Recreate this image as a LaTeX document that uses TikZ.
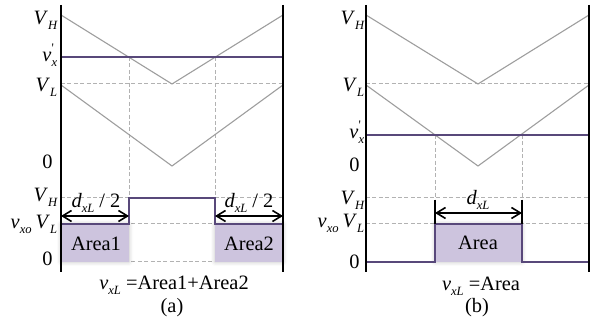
\documentclass[tikz,border=0pt]{standalone}
\usepackage{fontspec}
\setmainfont{Liberation Serif}
\usetikzlibrary{arrows.meta,shadows.blur}
\definecolor{sigc}{RGB}{88,72,122}
\definecolor{areac}{RGB}{205,196,222}
\newcommand{\sbs}[1]{\raisebox{-0.45ex}{\fontsize{6.3}{7}\selectfont\itshape #1}}
\newcommand{\vprime}{\textit{v}\rlap{\raisebox{1.05ex}{\fontsize{6.5}{7}\selectfont\textquotesingle}}\sbs{x}}
\begin{document}
\begin{tikzpicture}[x=0.5pt,y=-0.5pt,
  axis/.style={line width=1.3pt,draw=black},
  tri/.style={line width=0.55pt,draw=black!38},
  guide/.style={line width=0.5pt,draw=black!30,dash pattern=on 2pt off 1.2pt},
  sig/.style={line width=1pt,draw=sigc},
  ext/.style={line width=0.55pt,draw=black},
  areafill/.style={fill=areac,draw=none,blur shadow={shadow xshift=0pt,shadow yshift=0pt,shadow blur radius=2pt,shadow opacity=25}},
  dim/.style={line width=0.8pt,{Straight Barb[length=4.5pt,width=5.5pt]}-{Straight Barb[length=4.5pt,width=5.5pt]}},
  lbl/.style={anchor=base east,inner sep=0pt,font=\fontsize{10.2}{12}\selectfont},
  txt/.style={anchor=base,inner sep=0pt,font=\fontsize{10.2}{12}\selectfont},
]
\useasboundingbox (0,0) rectangle (594,330);

% ================= panel (a) =================
\coordinate (aTL) at (61,5);   \coordinate (aBL) at (61,272);
\coordinate (aTR) at (283,5);  \coordinate (aBR) at (283,272);
% guides
\draw[guide] (61,84) -- (283,84);
\draw[guide] (129,57) -- (129,198);
\draw[guide] (215,57) -- (215,198);
\draw[guide] (61,198) -- (283,198);
\draw[guide] (61,224) -- (283,224);
\draw[guide] (61,262) -- (283,262);
% carriers
\draw[tri] (61,15) -- (172,84) -- (283,15);
\draw[tri] (61,85) -- (172,166) -- (283,85);
% areas
\fill[areafill] (61,224) rectangle (129,262);
\fill[areafill] (215,224) rectangle (283,262);
% signals
\draw[sig] (61,57) -- (283,57);
\draw[sig] (61,224) -- (129,224) -- (129,198) -- (215,198) -- (215,224) -- (283,224);
% axes
\draw[axis] (aTL) -- (aBL);
\draw[axis] (aTR) -- (aBR);
% dimension arrows
\coordinate (a1l) at (61,216);  \coordinate (a1r) at (129,216);
\coordinate (a2l) at (215,216); \coordinate (a2r) at (283,216);
\draw[dim] (a1l) -- (a1r);
\draw[dim] (a2l) -- (a2r);
% labels
\node[lbl] (aVH) at (57.5,25) {\textit{V}\sbs{H}};
\node[lbl] (avx) at (57.5,62) {\vprime};
\node[lbl] (aVL) at (57.5,92) {\textit{V}\sbs{L}};
\node[lbl] (a0) at (53,169) {0};
\node[lbl] (aVH2) at (57.5,202) {\textit{V}\sbs{H}};
\node[lbl] (aVL2) at (57.5,229) {\textit{v}\sbs{xo}\hspace{2pt}\textit{V}\sbs{L}};
\node[lbl] (a02) at (53,266) {0};
\node[txt] (ad1) at (96,208) {\textit{d}\sbs{xL} / 2};
\node[txt] (ad2) at (249,208) {\textit{d}\sbs{xL} / 2};
\node[txt] (aA1) at (96,251) {Area1};
\node[txt] (aA2) at (249,251) {Area2};
\node[txt] (aeq) at (174,290) {\textit{v}\sbs{xL} =Area1+Area2};
\node[txt] (acap) at (172,313) {(a)};

% ================= panel (b) =================
\coordinate (bTL) at (366,5);  \coordinate (bBL) at (366,272);
\coordinate (bTR) at (589,5);  \coordinate (bBR) at (589,272);
\draw[guide] (366,84) -- (589,84);
\draw[guide] (435,135) -- (435,199);
\draw[guide] (522,135) -- (522,199);
\draw[guide] (366,198) -- (589,198);
\draw[guide] (366,224) -- (589,224);
\draw[tri] (366,15) -- (478,84) -- (589,15);
\draw[tri] (366,85) -- (478,166) -- (589,85);
\fill[areafill] (435,224) rectangle (522,262);
\draw[sig] (366,135) -- (589,135);
\draw[sig] (366,262) -- (435,262) -- (435,224) -- (522,224) -- (522,262) -- (589,262);
\draw[axis] (bTL) -- (bBL);
\draw[axis] (bTR) -- (bBR);
\coordinate (bx1t) at (435,200); \coordinate (bx1b) at (435,224);
\coordinate (bx2t) at (522,200); \coordinate (bx2b) at (522,224);
\draw[ext] (bx1t) -- (bx1b);
\draw[ext] (bx2t) -- (bx2b);
\coordinate (bdl) at (435,213); \coordinate (bdr) at (522,213);
\draw[dim] (bdl) -- (bdr);
\node[lbl] (bVH) at (364.5,25) {\textit{V}\sbs{H}};
\node[lbl] (bVL) at (364.5,92) {\textit{V}\sbs{L}};
\node[lbl] (bvx) at (364.5,139) {\vprime};
\node[lbl] (b0) at (360,172) {0};
\node[lbl] (bVH2) at (364.5,205) {\textit{V}\sbs{H}};
\node[lbl] (bVL2) at (364.5,228) {\textit{v}\sbs{xo}\hspace{2pt}\textit{V}\sbs{L}};
\node[lbl] (b02) at (360,269) {0};
\node[txt] (bd) at (478,205) {\textit{d}\sbs{xL}};
\node[txt] (bA) at (478,250) {Area};
\node[txt] (beq) at (481,291) {\textit{v}\sbs{xL} =Area};
\node[txt] (bcap) at (477,313) {(b)};
\end{tikzpicture}
\end{document}
